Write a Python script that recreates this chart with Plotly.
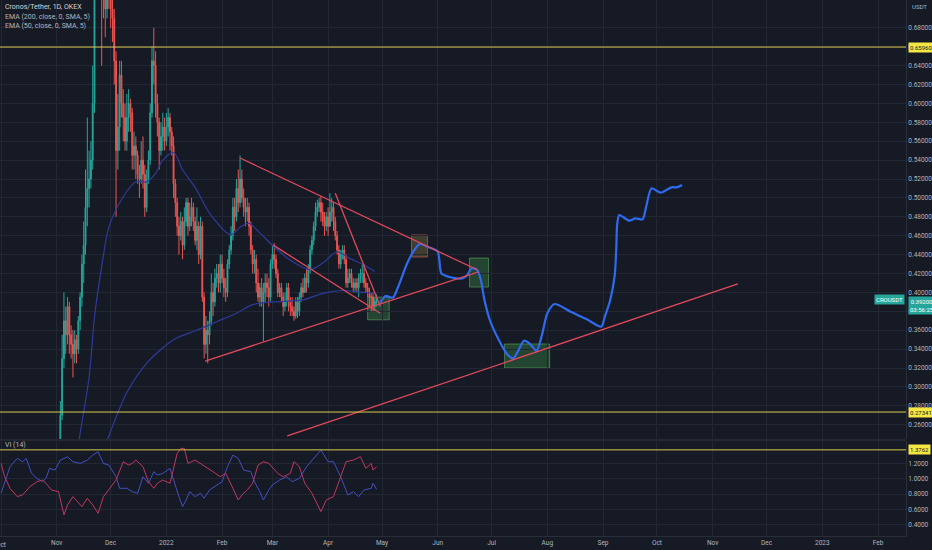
import pandas as pd
import plotly.graph_objects as go

# =============================================================================
# DATA
# =============================================================================
# daily candles CRO/USDT from 2021-11-01 to 2022-04-28
CANDLE_START = '2021-11-01'
FIRST_OPEN = 0.195
CLOSE = [
    # Nov
    0.205, 0.225, 0.270, 0.330, 0.370, 0.355, 0.385, 0.355, 0.345, 0.335,
    0.350, 0.340, 0.370, 0.395, 0.430, 0.450, 0.490, 0.510, 0.520, 0.540,
    0.600, 0.750, 0.820, 0.870, 0.830, 0.720, 0.740, 0.700, 0.750, 0.720,
    # Dec
    0.700, 0.690, 0.645, 0.550, 0.575, 0.630, 0.600, 0.585, 0.560, 0.585,
    0.600, 0.590, 0.545, 0.555, 0.545, 0.525, 0.520, 0.540, 0.525, 0.490,
    0.520, 0.540, 0.590, 0.645, 0.640, 0.600, 0.580, 0.550, 0.565, 0.575, 0.560,
    # Jan
    0.575, 0.585, 0.570, 0.555, 0.515, 0.495, 0.470, 0.460, 0.475, 0.450,
    0.475, 0.495, 0.470, 0.480, 0.490, 0.475, 0.455, 0.470, 0.440, 0.470,
    0.395, 0.345, 0.360, 0.355, 0.370, 0.400, 0.390, 0.415, 0.420, 0.410, 0.430,
    # Feb
    0.415, 0.405, 0.400, 0.430, 0.445, 0.460, 0.490, 0.480, 0.510, 0.495,
    0.520, 0.500, 0.490, 0.485, 0.490, 0.470, 0.445, 0.430, 0.435, 0.410,
    0.395, 0.405, 0.390, 0.400, 0.410, 0.405, 0.395, 0.430,
    # Mar
    0.440, 0.435, 0.420, 0.400, 0.405, 0.395, 0.385, 0.390, 0.405, 0.390,
    0.385, 0.380, 0.375, 0.390, 0.380, 0.395, 0.405, 0.400, 0.415, 0.410,
    0.425, 0.445, 0.455, 0.470, 0.485, 0.490, 0.495, 0.485, 0.475, 0.470, 0.480,
    # Apr
    0.470, 0.485, 0.490, 0.475, 0.460, 0.445, 0.430, 0.440, 0.445, 0.435,
    0.410, 0.415, 0.420, 0.410, 0.405, 0.410, 0.405, 0.415, 0.420, 0.420,
    0.410, 0.405, 0.400, 0.395, 0.395, 0.385, 0.390, 0.392,
]
HIGH = [
    0.215, 0.235, 0.285, 0.355, 0.400, 0.385, 0.395, 0.390, 0.365, 0.360,
    0.360, 0.355, 0.375, 0.400, 0.440, 0.475, 0.530, 0.585, 0.550, 0.560,
    0.640, 0.780, 0.860, 0.970, 0.900, 0.840, 0.790, 0.780, 0.800, 0.780,
    0.760, 0.720, 0.700, 0.655, 0.610, 0.645, 0.645, 0.615, 0.600, 0.610,
    0.615, 0.605, 0.595, 0.570, 0.565, 0.550, 0.535, 0.560, 0.565, 0.535,
    0.530, 0.550, 0.600, 0.660, 0.680, 0.655, 0.610, 0.585, 0.580, 0.590, 0.585,
    0.590, 0.595, 0.590, 0.575, 0.565, 0.520, 0.500, 0.480, 0.485, 0.480,
    0.490, 0.500, 0.500, 0.495, 0.500, 0.495, 0.480, 0.490, 0.475, 0.480,
    0.475, 0.400, 0.375, 0.370, 0.380, 0.420, 0.410, 0.425, 0.430, 0.430, 0.440,
    0.440, 0.425, 0.415, 0.435, 0.450, 0.470, 0.500, 0.500, 0.520, 0.530,
    0.545, 0.530, 0.510, 0.500, 0.500, 0.495, 0.475, 0.450, 0.445, 0.440,
    0.425, 0.410, 0.415, 0.410, 0.420, 0.420, 0.415, 0.435,
    0.450, 0.452, 0.440, 0.425, 0.410, 0.410, 0.400, 0.400, 0.410, 0.410,
    0.395, 0.395, 0.385, 0.395, 0.395, 0.400, 0.410, 0.415, 0.420, 0.425,
    0.430, 0.450, 0.460, 0.475, 0.495, 0.498, 0.500, 0.502, 0.495, 0.485, 0.485,
    0.490, 0.505, 0.500, 0.495, 0.480, 0.465, 0.450, 0.445, 0.450, 0.450,
    0.440, 0.425, 0.425, 0.425, 0.415, 0.415, 0.415, 0.420, 0.425, 0.430,
    0.430, 0.415, 0.410, 0.405, 0.400, 0.400, 0.395, 0.398,
]
LOW = [
    0.195, 0.200, 0.220, 0.265, 0.320, 0.335, 0.345, 0.335, 0.330, 0.310,
    0.325, 0.325, 0.335, 0.360, 0.385, 0.410, 0.440, 0.470, 0.490, 0.510,
    0.530, 0.590, 0.720, 0.780, 0.780, 0.640, 0.690, 0.670, 0.690, 0.700,
    0.680, 0.665, 0.620, 0.480, 0.530, 0.550, 0.585, 0.560, 0.550, 0.550,
    0.570, 0.570, 0.530, 0.530, 0.520, 0.515, 0.500, 0.515, 0.510, 0.480,
    0.485, 0.515, 0.535, 0.585, 0.620, 0.585, 0.565, 0.530, 0.545, 0.550, 0.550,
    0.555, 0.565, 0.550, 0.545, 0.500, 0.480, 0.460, 0.440, 0.455, 0.435,
    0.445, 0.470, 0.460, 0.465, 0.470, 0.465, 0.450, 0.445, 0.430, 0.435,
    0.390, 0.330, 0.335, 0.325, 0.345, 0.365, 0.375, 0.385, 0.405, 0.400, 0.400,
    0.410, 0.395, 0.390, 0.395, 0.425, 0.440, 0.455, 0.465, 0.475, 0.485,
    0.490, 0.495, 0.480, 0.470, 0.475, 0.460, 0.440, 0.420, 0.420, 0.400,
    0.390, 0.385, 0.385, 0.348, 0.390, 0.395, 0.385, 0.390,
    0.425, 0.425, 0.415, 0.395, 0.395, 0.390, 0.375, 0.380, 0.385, 0.380,
    0.375, 0.375, 0.370, 0.372, 0.373, 0.375, 0.390, 0.395, 0.400, 0.400,
    0.405, 0.420, 0.440, 0.450, 0.465, 0.480, 0.485, 0.475, 0.470, 0.460, 0.465,
    0.460, 0.470, 0.475, 0.465, 0.455, 0.440, 0.425, 0.425, 0.435, 0.430,
    0.405, 0.405, 0.410, 0.405, 0.400, 0.400, 0.400, 0.395, 0.410, 0.410,
    0.405, 0.400, 0.395, 0.385, 0.380, 0.380, 0.380, 0.385,
]

# moving averages (traced points)
EMA50_DATES = ['2021-11-13', '2021-11-14', '2021-11-19', '2021-11-22', '2021-11-26',
               '2021-11-30', '2021-12-07', '2021-12-15', '2021-12-21', '2021-12-26',
               '2021-12-30', '2022-01-05', '2022-01-10', '2022-01-18', '2022-01-25',
               '2022-02-06', '2022-02-11', '2022-02-16', '2022-02-22', '2022-03-02',
               '2022-03-11', '2022-03-22', '2022-03-29', '2022-04-06', '2022-04-13',
               '2022-04-21', '2022-04-27']
EMA50 = [0.238, 0.251, 0.310, 0.374, 0.427, 0.469, 0.498, 0.517, 0.517, 0.526,
         0.540, 0.548, 0.530, 0.508, 0.484, 0.461, 0.469, 0.473, 0.463, 0.448,
         0.434, 0.424, 0.431, 0.443, 0.436, 0.429, 0.422]
EMA200_DATES = ['2021-11-28', '2021-12-10', '2021-12-21', '2022-01-05', '2022-01-18',
                '2022-01-29', '2022-02-09', '2022-02-18', '2022-03-02', '2022-03-18',
                '2022-03-29', '2022-04-09', '2022-04-21', '2022-04-27']
EMA200 = [0.238, 0.294, 0.325, 0.350, 0.360, 0.369, 0.378, 0.387, 0.390, 0.392,
          0.399, 0.402, 0.400, 0.399]

# drawn projection path
PATH_DATES = ['2022-04-30', '2022-05-03', '2022-05-07', '2022-05-10', '2022-05-15',
              '2022-05-19', '2022-05-22', '2022-05-27', '2022-06-01', '2022-06-03',
              '2022-06-07', '2022-06-14', '2022-06-17', '2022-06-20', '2022-06-23',
              '2022-06-25', '2022-06-27', '2022-06-30', '2022-07-05', '2022-07-10',
              '2022-07-13', '2022-07-16', '2022-07-19', '2022-07-22', '2022-07-26',
              '2022-07-29', '2022-08-01', '2022-08-05', '2022-08-14', '2022-08-23',
              '2022-08-31', '2022-09-02', '2022-09-05', '2022-09-07 12:00',
              '2022-09-08 08:00', '2022-09-08 20:00', '2022-09-10', '2022-09-15 12:00',
              '2022-09-19', '2022-09-23', '2022-09-25', '2022-09-28', '2022-10-03',
              '2022-10-09', '2022-10-12', '2022-10-15']
PATH = [0.3888, 0.3962, 0.3944, 0.4060, 0.4308, 0.4449, 0.4512, 0.4477, 0.4431, 0.4202,
        0.4166, 0.4145, 0.4174, 0.4255, 0.4237, 0.4131, 0.3920, 0.3708, 0.3497, 0.3338,
        0.3303, 0.3390, 0.3489, 0.3461, 0.3383, 0.3549, 0.3779, 0.3877, 0.3796, 0.3715,
        0.3637, 0.3743, 0.3920, 0.4184, 0.4449, 0.4713, 0.4819, 0.4759, 0.4784, 0.4774,
        0.4907, 0.5102, 0.5055, 0.5112, 0.5112, 0.5137]

# trend lines: (start date, start price, end date, end price)
TRENDLINES = [
    ('2022-02-11', 0.5422, '2022-06-23 05:00', 0.4237),
    ('2022-01-22 14:00', 0.3274, '2022-06-23 17:00', 0.4216),
    ('2022-03-01 12:00', 0.4500, '2022-04-30', 0.3780),
    ('2022-04-05', 0.5050, '2022-04-30', 0.3850),
    ('2022-03-09 07:00', 0.2481, '2022-11-15', 0.4089),
]

# highlight boxes: (date from, date to, price low, price high)
BOXES = [
    ('2022-04-23', '2022-05-05', 0.371, 0.395),
    ('2022-05-17 10:00', '2022-05-26 07:00', 0.4375, 0.4608),
    ('2022-06-18 17:00', '2022-06-29 07:00', 0.4057, 0.4364),
    ('2022-07-08 05:00', '2022-08-02 07:00', 0.3200, 0.3454),
]

PRICE_LEVELS = [0.6596, 0.27341]
VI_LEVEL = 1.3762
LAST_PRICE = 0.392

# Vortex indicator (14)
VI_PLUS_DATES = ['2021-10-01', '2021-10-06', '2021-10-10', '2021-10-13', '2021-10-15',
                 '2021-10-18', '2021-10-21', '2021-10-24', '2021-10-26', '2021-10-28',
                 '2021-10-31', '2021-11-03', '2021-11-07', '2021-11-10', '2021-11-14',
                 '2021-11-18', '2021-11-21', '2021-11-24', '2021-11-27', '2021-11-30',
                 '2021-12-04', '2021-12-06', '2021-12-10', '2021-12-13', '2021-12-16',
                 '2021-12-19', '2021-12-22', '2021-12-25', '2021-12-27', '2021-12-30',
                 '2022-01-03', '2022-01-06', '2022-01-08', '2022-01-10', '2022-01-12',
                 '2022-01-14', '2022-01-17', '2022-01-20', '2022-01-22', '2022-01-25',
                 '2022-01-29', '2022-02-01', '2022-02-04', '2022-02-07', '2022-02-10',
                 '2022-02-13', '2022-02-17', '2022-02-19', '2022-02-22', '2022-02-24',
                 '2022-02-27', '2022-03-01', '2022-03-05', '2022-03-09', '2022-03-12',
                 '2022-03-16', '2022-03-20', '2022-03-24', '2022-03-28', '2022-04-01',
                 '2022-04-04', '2022-04-08', '2022-04-12', '2022-04-15', '2022-04-18',
                 '2022-04-21', '2022-04-25', '2022-04-26', '2022-04-28']
VI_PLUS = [0.811, 1.157, 1.265, 1.222, 1.265, 1.070, 1.005, 0.962, 1.005, 1.135,
           1.113, 1.243, 1.286, 1.222, 1.200, 1.243, 1.308, 1.351, 1.200, 1.178,
           1.027, 0.876, 0.876, 0.832, 0.811, 1.027, 0.941, 1.092, 1.049, 1.070,
           1.135, 0.897, 0.768, 0.638, 0.724, 0.832, 0.768, 0.811, 0.746, 0.854,
           0.919, 0.962, 1.157, 1.308, 1.265, 1.113, 1.092, 0.962, 0.832, 0.724,
           0.854, 0.919, 0.984, 1.027, 0.962, 1.005, 1.157, 1.265, 1.373, 1.222,
           1.222, 1.027, 0.789, 0.832, 0.768, 0.854, 0.876, 0.941, 0.863]
VI_MINUS_DATES = ['2021-10-01', '2021-10-03', '2021-10-06', '2021-10-10', '2021-10-13',
                  '2021-10-17', '2021-10-21', '2021-10-24', '2021-10-26', '2021-10-29',
                  '2021-11-02', '2021-11-05', '2021-11-07', '2021-11-10', '2021-11-15',
                  '2021-11-18', '2021-11-21', '2021-11-24', '2021-11-27', '2021-11-30',
                  '2021-12-04', '2021-12-08', '2021-12-11', '2021-12-13', '2021-12-15',
                  '2021-12-19', '2021-12-22', '2021-12-25', '2021-12-27', '2021-12-30',
                  '2022-01-03', '2022-01-07', '2022-01-09', '2022-01-11', '2022-01-13',
                  '2022-01-17', '2022-01-20', '2022-01-23', '2022-01-27', '2022-01-31',
                  '2022-02-03', '2022-02-07', '2022-02-10', '2022-02-12', '2022-02-15',
                  '2022-02-18', '2022-02-21', '2022-02-24', '2022-02-27', '2022-03-04',
                  '2022-03-07', '2022-03-11', '2022-03-13', '2022-03-16', '2022-03-19',
                  '2022-03-23', '2022-03-26', '2022-03-28', '2022-03-31', '2022-04-04',
                  '2022-04-08', '2022-04-11', '2022-04-15', '2022-04-19', '2022-04-22',
                  '2022-04-25', '2022-04-26', '2022-04-28']
VI_MINUS = [1.200, 1.027, 0.876, 0.768, 0.789, 0.897, 0.962, 0.984, 0.941, 0.854,
            0.832, 0.530, 0.660, 0.768, 0.638, 0.746, 0.660, 0.551, 0.768, 0.854,
            0.984, 1.222, 1.178, 1.200, 1.243, 1.157, 0.962, 0.876, 0.941, 0.984,
            0.941, 1.330, 1.395, 1.395, 1.200, 1.243, 1.200, 1.157, 1.092, 1.027,
            1.070, 0.876, 0.724, 0.789, 0.854, 0.941, 1.178, 1.222, 1.200, 1.070,
            1.027, 1.070, 1.222, 1.157, 0.941, 0.811, 0.660, 0.573, 0.724, 0.768,
            1.027, 1.222, 1.243, 1.287, 1.135, 1.200, 1.113, 1.157]

# axes
MONTH_TICKS = ['2021-10-01', '2021-11-01', '2021-12-01', '2022-01-01', '2022-02-01',
               '2022-03-01', '2022-04-01', '2022-05-01', '2022-06-01', '2022-07-01',
               '2022-08-01', '2022-09-01', '2022-10-01', '2022-11-01', '2022-12-01',
               '2023-01-01', '2023-02-01']
MONTH_LABELS = ['Oct', 'Nov', 'Dec', '2022', 'Feb', 'Mar', 'Apr', 'May', 'Jun', 'Jul',
                'Aug', 'Sep', 'Oct', 'Nov', 'Dec', '2023', 'Feb']
PRICE_TICKS = [0.26, 0.28, 0.30, 0.32, 0.34, 0.36, 0.38, 0.40, 0.42, 0.44, 0.46, 0.48,
               0.50, 0.52, 0.54, 0.56, 0.58, 0.60, 0.62, 0.64, 0.66, 0.68]
VI_TICKS = [0.4, 0.6, 0.8, 1.0, 1.2]

# =============================================================================
# STYLE
# =============================================================================
BG = '#161a25'
GRID = '#232734'
AXIS_TXT = '#b2b5be'
UP = '#26a69a'
DOWN = '#ef5350'
EMA_COLOR = '#2e3a9c'
TREND_COLOR = '#e2495b'
LEVEL_COLOR = '#d9c94c'
FONT = 'Roboto'

# =============================================================================
# FIGURE
# =============================================================================
dates = pd.date_range(CANDLE_START, periods=len(CLOSE), freq='D')
# crypto trades 24/7: each open is the previous close
opens = [FIRST_OPEN] + CLOSE[:-1]

fig = go.Figure()

fig.add_trace(go.Candlestick(
    x=dates, open=opens, high=HIGH, low=LOW, close=CLOSE,
    increasing=dict(line=dict(color=UP, width=1), fillcolor=UP),
    decreasing=dict(line=dict(color=DOWN, width=1), fillcolor=DOWN),
    whiskerwidth=0, showlegend=False, hoverinfo='skip',
    xaxis='x', yaxis='y'
))

for d, v in ((EMA50_DATES, EMA50), (EMA200_DATES, EMA200)):
    fig.add_trace(go.Scatter(
        x=d, y=v, mode='lines',
        line=dict(color=EMA_COLOR, width=1.2, shape='spline', smoothing=0.8),
        showlegend=False, hoverinfo='skip', xaxis='x', yaxis='y'
    ))

fig.add_trace(go.Scatter(
    x=PATH_DATES, y=PATH, mode='lines',
    line=dict(color='#2f6bf0', width=2.2, shape='spline', smoothing=0.7),
    showlegend=False, hoverinfo='skip', xaxis='x', yaxis='y'
))

fig.add_trace(go.Scatter(
    x=VI_PLUS_DATES, y=VI_PLUS, mode='lines',
    line=dict(color='#4450c4', width=1),
    showlegend=False, hoverinfo='skip', xaxis='x2', yaxis='y2'
))
fig.add_trace(go.Scatter(
    x=VI_MINUS_DATES, y=VI_MINUS, mode='lines',
    line=dict(color='#c2375f', width=1),
    showlegend=False, hoverinfo='skip', xaxis='x2', yaxis='y2'
))

shapes = []
for x0, y0, x1, y1 in TRENDLINES:
    shapes.append(dict(type='line', xref='x', yref='y', x0=x0, y0=y0, x1=x1, y1=y1,
                       line=dict(color=TREND_COLOR, width=1.3)))
for i, (x0, x1, y0, y1) in enumerate(BOXES):
    border = 'rgba(190,85,80,0.75)' if i == 1 else 'rgba(90,170,95,0.6)'
    fill = 'rgba(110,105,60,0.45)' if i == 1 else 'rgba(60,140,70,0.38)'
    shapes.append(dict(type='rect', xref='x', yref='y', x0=x0, x1=x1, y0=y0, y1=y1,
                       line=dict(color=border, width=1), fillcolor=fill, layer='below'))
for lvl in PRICE_LEVELS:
    shapes.append(dict(type='line', xref='paper', yref='y', x0=0, x1=1, y0=lvl, y1=lvl,
                       line=dict(color=LEVEL_COLOR, width=1)))
shapes.append(dict(type='line', xref='paper', yref='y2', x0=0, x1=1, y0=VI_LEVEL, y1=VI_LEVEL,
                   line=dict(color=LEVEL_COLOR, width=1)))
# pane separator
shapes.append(dict(type='line', xref='paper', yref='paper', x0=0, x1=1, y0=0.179, y1=0.179,
                   line=dict(color='#2a2e39', width=1.5)))

annotations = []
legend_lines = [
    ('Cronos/Tether, 1D, OKEX', 0.987, '#d1d4dc'),
    ('EMA (200, close, 0, SMA, 5)', 0.968, AXIS_TXT),
    ('EMA (50, close, 0, SMA, 5)', 0.951, AXIS_TXT),
    ('VI (14)', 0.170, AXIS_TXT),
]
for txt, y, col in legend_lines:
    annotations.append(dict(text=txt, xref='paper', yref='paper', x=0.003, y=y,
                            xanchor='left', yanchor='middle', showarrow=False,
                            font=dict(size=7, color=col, family=FONT)))

for lvl in PRICE_LEVELS:
    annotations.append(dict(text=f'{lvl:.5f}', xref='paper', yref='y', x=1.002, y=lvl,
                            xanchor='left', yanchor='middle', showarrow=False,
                            bgcolor='#f5e642', borderpad=1,
                            font=dict(size=6, color='#131722', family=FONT)))
annotations.append(dict(text=f'{VI_LEVEL:.4f}', xref='paper', yref='y2', x=1.002, y=VI_LEVEL,
                        xanchor='left', yanchor='middle', showarrow=False,
                        bgcolor='#f5e642', borderpad=1,
                        font=dict(size=6, color='#131722', family=FONT)))
annotations.append(dict(text=f'{LAST_PRICE:.5f}<br>03:56:25', xref='paper', yref='y',
                        x=1.002, y=LAST_PRICE, xanchor='left', yanchor='top', yshift=4,
                        showarrow=False, bgcolor=UP, borderpad=1,
                        font=dict(size=6, color='white', family=FONT)))
annotations.append(dict(text='CROUSDT', xref='paper', yref='y', x=0.999, y=LAST_PRICE,
                        xanchor='right', yanchor='middle', showarrow=False,
                        bgcolor=UP, borderpad=1,
                        font=dict(size=6, color='white', family=FONT)))
annotations.append(dict(text='USDT', xref='paper', yref='paper', x=1.004, y=0.988,
                        xanchor='left', yanchor='middle', showarrow=False,
                        font=dict(size=6, color=AXIS_TXT, family=FONT)))
# first month label sits on the left edge and is cut, as in the screenshot
annotations.append(dict(text=MONTH_LABELS[0], xref='x2', yref='paper', x=MONTH_TICKS[0],
                        y=0, yanchor='top', yshift=-3, showarrow=False,
                        font=dict(size=6.5, color=AXIS_TXT, family=FONT)))

x_range = ['2021-09-30 10:00', '2023-02-16 14:00']
tick_font = dict(size=6.5, color=AXIS_TXT, family=FONT)

fig.update_layout(
    width=932, height=550,
    margin=dict(l=0, r=26, t=0, b=14),
    paper_bgcolor=BG, plot_bgcolor=BG,
    showlegend=False,
    shapes=shapes, annotations=annotations,
    xaxis=dict(domain=[0, 1], range=x_range, anchor='y', type='date',
               tickvals=MONTH_TICKS, showticklabels=False,
               showgrid=True, gridcolor=GRID, zeroline=False,
               rangeslider=dict(visible=False)),
    xaxis2=dict(domain=[0, 1], range=x_range, anchor='y2', type='date', matches='x',
                tickvals=MONTH_TICKS, ticktext=MONTH_LABELS, tickfont=tick_font,
                showgrid=True, gridcolor=GRID, zeroline=False, ticks='',
                showline=True, linecolor='#2a2e39'),
    yaxis=dict(domain=[0.181, 1], range=[0.2449, 0.7094], side='right',
               tickvals=PRICE_TICKS, tickformat='.5f', tickfont=tick_font,
               showgrid=True, gridcolor=GRID, zeroline=False, ticks='',
               showline=True, linecolor='#2a2e39'),
    yaxis2=dict(domain=[0, 0.177], range=[0.2558, 1.4896], side='right', anchor='x2',
                tickvals=VI_TICKS, tickformat='.4f', tickfont=tick_font,
                showgrid=True, gridcolor=GRID, zeroline=False, ticks='',
                showline=True, linecolor='#2a2e39'),
)

# the page should start at the window corner, like the screenshot
fig.write_html("out.html",
               config={'displayModeBar': False},
               post_script="document.body.style.margin='0';"
                           "document.body.style.background='" + BG + "';")
